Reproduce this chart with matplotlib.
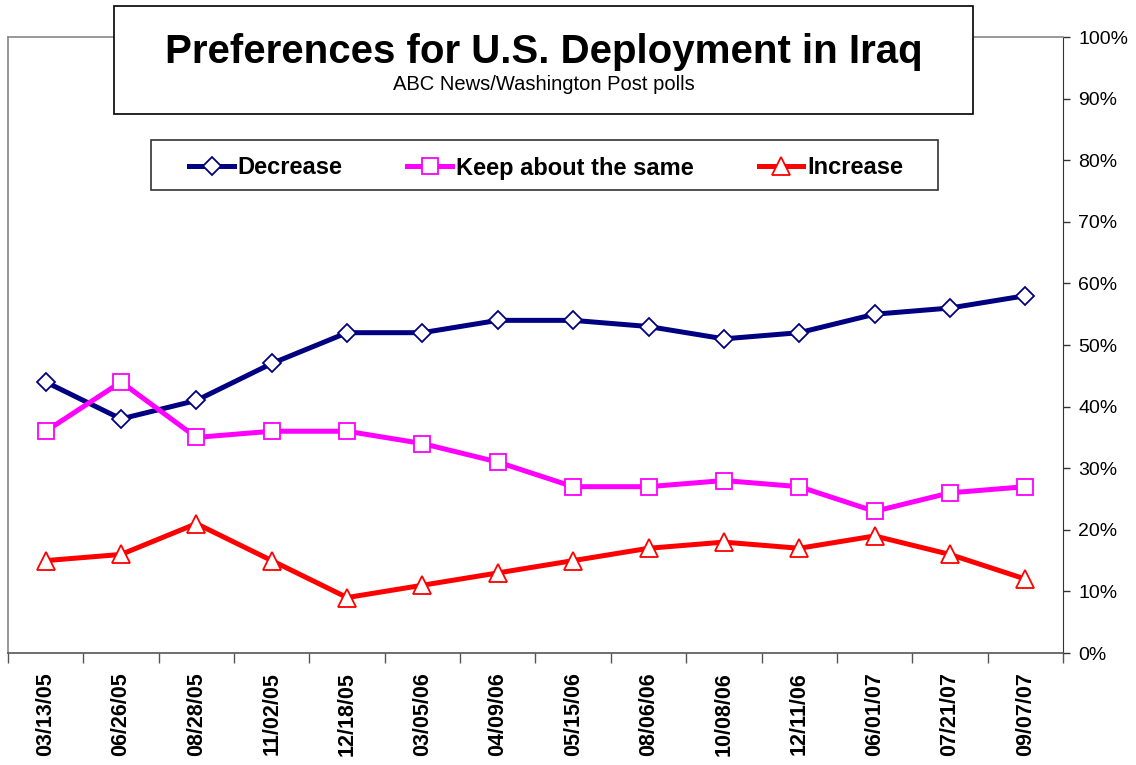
import matplotlib
matplotlib.use('Agg')
import matplotlib.pyplot as plt
from matplotlib.patches import Rectangle
from matplotlib.ticker import FuncFormatter, FixedLocator, NullFormatter

plt.rcParams['font.family'] = ['Liberation Sans', 'DejaVu Sans']

fechas = ['03/13/05', '06/26/05', '08/28/05', '11/02/05', '12/18/05', '03/05/06', '04/09/06',
          '05/15/06', '08/06/06', '10/08/06', '12/11/06', '06/01/07', '07/21/07', '09/07/07']
decrease = [44, 38, 41, 47, 52, 52, 54, 54, 53, 51, 52, 55, 56, 58]
keep_same = [36, 44, 35, 36, 36, 34, 31, 27, 27, 28, 27, 23, 26, 27]
increase = [15, 16, 21, 15, 9, 11, 13, 15, 17, 18, 17, 19, 16, 12]

fig = plt.figure(figsize=(11.36, 7.65), dpi=100)
ax = fig.add_axes([8 / 1136, 112 / 765, 1055 / 1136, 616 / 765])

x = [i + 0.5 for i in range(len(fechas))]
ax.plot(x, decrease, color='#000080', lw=3.6, marker='D', ms=9, mfc='white',
        mec='#000080', mew=1.3, label='Decrease', clip_on=False)
ax.plot(x, keep_same, color='#FF00FF', lw=3.6, marker='s', ms=12, mfc='white',
        mec='#FF00FF', mew=1.3, label='Keep about the same', clip_on=False)
ax.plot(x, increase, color='#FF0000', lw=3.6, marker='^', ms=13, mfc='white',
        mec='#FF0000', mew=1.3, label='Increase', clip_on=False)

ax.set_xlim(0, len(fechas))
ax.set_ylim(0, 100)

# eje y a la derecha
ax.yaxis.tick_right()
ax.set_yticks(range(0, 101, 10))
ax.yaxis.set_major_formatter(FuncFormatter(lambda v, _: f'{int(v)}%'))
ax.tick_params(axis='y', direction='out', length=5, width=1, color='#333333',
               labelsize=14, pad=6)

# eje x: marcas entre categorias, etiquetas en el centro
ax.xaxis.set_major_locator(FixedLocator(range(len(fechas) + 1)))
ax.xaxis.set_major_formatter(NullFormatter())
ax.xaxis.set_minor_locator(FixedLocator(x))
ax.set_xticklabels(fechas, minor=True, rotation=90, fontsize=15.5, fontweight='bold')
ax.tick_params(axis='x', which='major', direction='out', length=7, width=1, color='#555555')
ax.tick_params(axis='x', which='minor', length=0, pad=14)

for s in ['left', 'top']:
    ax.spines[s].set_color('#888888')
    ax.spines[s].set_linewidth(1.2)
ax.spines['right'].set_color('#333333')
ax.spines['bottom'].set_color('#555555')
ax.spines['bottom'].set_linewidth(1.2)

# caja del titulo
fig.add_artist(Rectangle((114 / 1136, (765 - 114) / 765), 859 / 1136, 108 / 765,
                         transform=fig.transFigure, facecolor='white',
                         edgecolor='black', lw=1.2))
fig.text(543.5 / 1136, (765 - 52) / 765, 'Preferences for U.S. Deployment in Iraq',
         ha='center', va='center', fontsize=29, fontweight='bold')
fig.text(543.5 / 1136, (765 - 85) / 765, 'ABC News/Washington Post polls',
         ha='center', va='center', fontsize=14.5)

# caja de la leyenda
ax.add_patch(Rectangle((151 / 1136, (765 - 190) / 765), 787 / 1136, 50 / 765,
                       transform=fig.transFigure, facecolor='white', clip_on=False,
                       edgecolor='#333333', lw=1.2, zorder=4))
leg = ax.legend(loc='center', bbox_to_anchor=(546 / 1136, (765 - 168) / 765),
                bbox_transform=fig.transFigure, ncol=3, frameon=False, borderpad=0,
                handlelength=1.9, handletextpad=0.15, columnspacing=2.75,
                prop={'size': 17, 'weight': 'bold'})
leg.set_zorder(5)

fig.savefig('out.png', dpi=100)
